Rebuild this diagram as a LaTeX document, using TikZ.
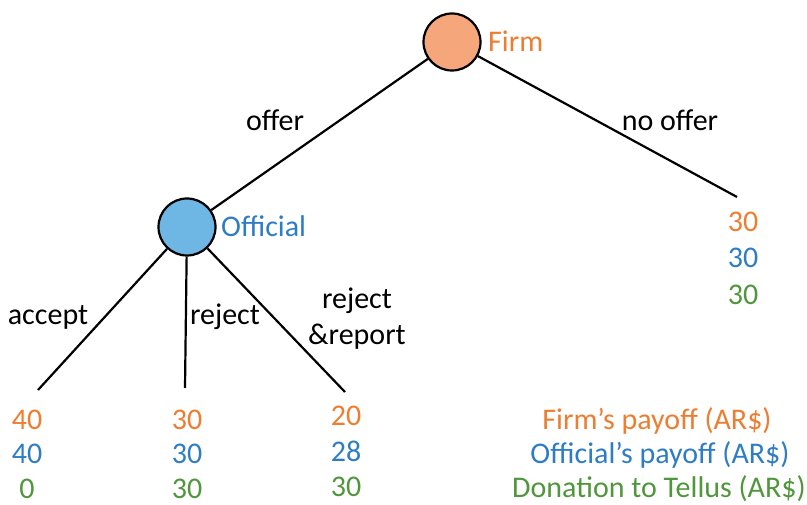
\documentclass[tikz,border=0pt]{standalone}
\usepackage{fontspec}
\setmainfont{Carlito}
\definecolor{orgtxt}{RGB}{237,125,49}
\definecolor{bluetxt}{RGB}{46,125,196}
\definecolor{greentxt}{RGB}{80,150,60}
\definecolor{orgfill}{RGB}{245,166,122}
\definecolor{bluefill}{RGB}{110,182,228}
\begin{document}
\begin{tikzpicture}[x=1pt,y=-1pt,
  decision/.style={circle,draw=black,line width=2.2pt,minimum size=57pt,inner sep=0pt},
  branch/.style={draw=black,line width=2.2pt},
  lbl/.style={anchor=base,inner sep=0pt,font=\fontsize{30}{36}\selectfont},
  pay/.style={lbl}]
\useasboundingbox (0,0) rectangle (807,505);
% decision nodes
\node[decision,fill=orgfill] (firm) at (452,42) {};
\node[decision,fill=bluefill] (off) at (187,227) {};
\node[lbl,text=orgtxt,anchor=base west] (firmlbl) at (488,52) {Firm};
\node[lbl,text=bluetxt,anchor=base west] (offlbl) at (221,237) {Official};
% leaf end points
\coordinate (noend) at (737,197);
\coordinate (accend) at (38,390);
\coordinate (rejend) at (185,388);
\coordinate (repend) at (345,392);
% branches
\draw[branch] (firm) -- (off);
\draw[branch] (firm) -- (noend);
\draw[branch] (off) -- (accend);
\draw[branch] (off) -- (rejend);
\draw[branch] (off) -- (repend);
% branch labels
\node[lbl] (offerlbl) at (275,131) {offer};
\node[lbl] (noofferlbl) at (670,131) {no offer};
\node[lbl] (acclbl) at (48,325) {accept};
\node[lbl] (rejlbl) at (225,325) {reject};
\node[lbl] (rep1) at (357,309) {reject};
\node[lbl] (rep2) at (357,345) {\&report};
% payoffs: no offer
\node[pay,text=orgtxt] (n1) at (743,232) {30};
\node[pay,text=bluetxt] (n2) at (743,268) {30};
\node[pay,text=greentxt] (n3) at (743,305) {30};
% accept
\node[pay,text=orgtxt] (a1) at (27,429) {40};
\node[pay,text=bluetxt] (a2) at (27,464) {40};
\node[pay,text=greentxt] (a3) at (27,498) {0};
% reject
\node[pay,text=orgtxt] (r1) at (187,429) {30};
\node[pay,text=bluetxt] (r2) at (187,464) {30};
\node[pay,text=greentxt] (r3) at (187,498) {30};
% reject & report
\node[pay,text=orgtxt] (p1) at (346,426) {20};
\node[pay,text=bluetxt] (p2) at (346,461) {28};
\node[pay,text=greentxt] (p3) at (346,496) {30};
% legend
\node[lbl,text=orgtxt] (leg1) at (657,429) {Firm’s payoff (AR\$)};
\node[lbl,text=bluetxt] (leg2) at (660,464) {Official’s payoff (AR\$)};
\node[lbl,text=greentxt] (leg3) at (659,497) {Donation to Tellus (AR\$)};
\end{tikzpicture}
\end{document}
